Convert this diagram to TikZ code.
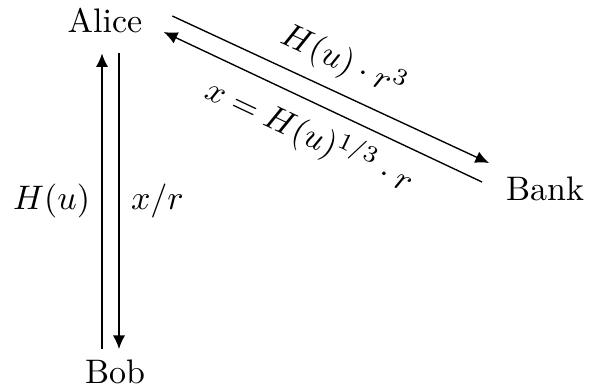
\documentclass[tikz,border=0pt]{standalone}
\usepackage{amsmath,amssymb}
\usepackage{tikz}
\usetikzlibrary{positioning, arrows.meta, calc}

\begin{document}
\begin{tikzpicture}[
    x=0.294pt, y=-0.294pt,
    party/.style={inner sep=0.333em},
    arrow/.style={-{Latex[length=4pt,width=3.6pt]}},
    msg/.style={midway}
]
    \useasboundingbox (0,0) rectangle (589,388);

    % --- PARTIES ---
    \node[party] (alice) at (105,21) {Alice};
    \node[party] (bank) at (545,189) {Bank};
    \node[party] (bob) at (115,372) {Bob};

    % --- ALICE <-> BOB ---
    \draw[arrow] ($(bob.north)+(-13,1)$) -- ($(alice.south)+(-3,8)$)
        node[msg, left] {$H(u)$};
    \draw[arrow] ($(alice.south)+(14,8)$) -- ($(bob.north)+(4,1)$)
        node[msg, right] {$x/r$};

    % --- ALICE <-> BANK ---
    \draw[arrow] ($(alice.east)+(18,-5)$) -- ($(bank.west)+(-5,-26)$)
        node[msg, sloped, above] {$H(u)\cdot r^3$};
    \draw[arrow] ($(bank.west)+(-12,-7)$) -- ($(alice.east)+(9.5,11)$)
        node[msg, sloped, below] {$x = H(u)^{1/3}\cdot r$};

\end{tikzpicture}
\end{document}
